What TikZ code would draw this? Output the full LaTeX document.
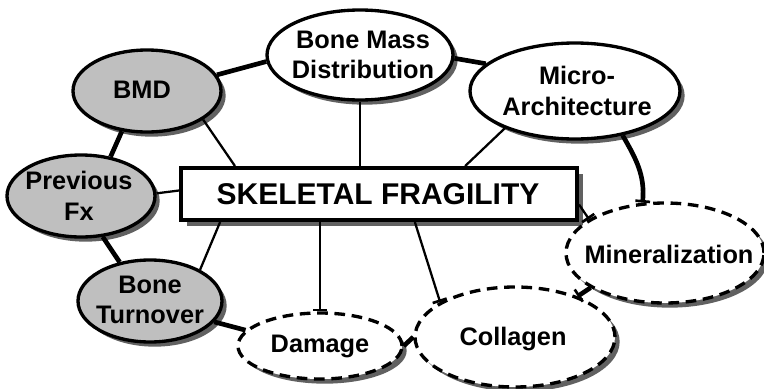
\documentclass[tikz,border=0pt]{standalone}
\usepackage{fontspec}
\setmainfont{Liberation Sans}
\usetikzlibrary{shapes.geometric,shadows,arrows.meta}

\tikzset{
  bubble/.style={ellipse,draw,line width=2.5pt,fill=white,inner sep=0pt,
    drop shadow={shadow xshift=3.5pt,shadow yshift=-3.5pt,fill=black!62,opacity=1}},
  known/.style={bubble,fill=black!25},
  unknown/.style={bubble,dash pattern=on 8pt off 5pt},
  txt/.style={font=\fontsize{19}{23}\selectfont\bfseries,align=center,inner sep=0pt},
  ring/.style={line width=3.5pt},
  spoke/.style={line width=1.7pt},
  tee/.style={-{Bar[width=11pt,line width=2pt]}}
}

\begin{document}
\begin{tikzpicture}[x=0.75pt,y=-0.75pt]
  \useasboundingbox[fill=white] (0,0) rectangle (764,389);
  % centre box
  \node[draw,fill=white,line width=3pt,minimum width=297pt,minimum height=39pt,inner sep=0pt,
    drop shadow={shadow xshift=4.5pt,shadow yshift=-4.5pt,fill=black!62,opacity=1}]
    (box) at (379,194) {};
  \node[txt,font=\fontsize{22.5}{26}\selectfont\bfseries] (box-t) at (378,194) {SKELETAL FRAGILITY};
  % known factors
  \node[known,minimum width=111pt,minimum height=61.5pt] (bmd) at (147,91) {};
  \node[known,minimum width=111pt,minimum height=61.5pt] (prev) at (81,196) {};
  \node[known,minimum width=108pt,minimum height=61.5pt] (turn) at (150,301) {};
  \node[bubble,minimum width=139.5pt,minimum height=67.5pt] (bm) at (360,55) {};
  \node[bubble,minimum width=157.5pt,minimum height=72pt] (mic) at (575,91) {};
  % less known factors
  \node[unknown,minimum width=123pt,minimum height=49.5pt] (dmg) at (320,346) {};
  \node[unknown,minimum width=150pt,minimum height=75pt] (col) at (515,337) {};
  \node[unknown,minimum width=148.5pt,minimum height=75pt] (min) at (665,253) {};
  \node[txt] (bmd-t) at (142,90) {BMD};
  \node[txt] (prev-t) at (79,196) {Previous\\Fx};
  \node[txt] (turn-t) at (150,300) {Bone\\Turnover};
  \node[txt] (bm-t) at (363,55) {Bone Mass\\Distribution};
  \node[txt] (mic-t) at (577,91) {Micro-\\Architecture};
  \node[txt] (dmg-t) at (320,346) {Damage};
  \node[txt] (col-t) at (513,339) {Collagen};
  \node[txt] (min-t) at (669,254) {Mineralization};
  % outer ring
  \draw[ring] (bmd.13) -- (bm.184);
  \draw[ring] (bmd.238) -- (prev.53);
  \draw[ring] (prev.298) -- (turn.128);
  \draw[ring] (turn.342) -- (dmg.168);
  \draw[ring] (dmg.east) -- (col.west);
  \draw[ring] (bm.358) -- (mic.163);
  \draw[ring,tee] (mic.317) to[out=-60,in=85] (min.114);
  \draw[ring,tee] (min.205) -- (col.33);
  % spokes
  \draw[spoke] (box.169) -- (bmd.333);
  \draw[spoke] (bm.south) -- (bm.south |- box.north);
  \draw[spoke] (box.18) -- (mic.208);
  \draw[spoke] (box.179) -- (prev.2);
  \draw[spoke] (box.190) -- (turn.32);
  \draw[spoke,tee] (dmg.north |- box.south) -- (dmg.north);
  \draw[spoke,tee] (box.322) -- (col.155);
  \draw[spoke,tee] (box.357) -- (min.156);
\end{tikzpicture}
\end{document}
